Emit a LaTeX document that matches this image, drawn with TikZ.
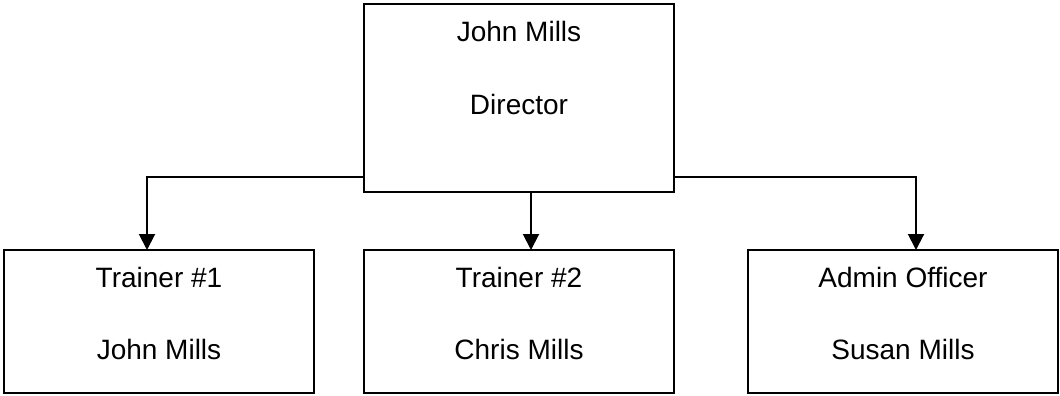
\documentclass[tikz,border=0pt]{standalone}
\usepackage{fontspec}
\setmainfont{Liberation Sans}
\usetikzlibrary{arrows.meta}
\begin{document}
\begin{tikzpicture}[x=1pt,y=-1pt,
  box/.style={draw=black,line width=2pt,inner sep=0pt,outer sep=0pt,fill=white},
  lbl/.style={anchor=base,inner sep=0pt,font=\fontsize{28}{34}\selectfont},
  arr/.style={draw=black,line width=2pt,-{Triangle[length=16pt,width=16pt]}}]
\useasboundingbox (0,0) rectangle (1060,396);
\node[box,minimum width=310pt,minimum height=188pt] (top) at (519,98) {};
\node[box,minimum width=310pt,minimum height=143pt] (t1) at (159,321.5) {};
\node[box,minimum width=310pt,minimum height=143pt] (t2) at (519,321.5) {};
\node[box,minimum width=310pt,minimum height=143pt] (ad) at (903,321.5) {};
\node[lbl] (topa) at (519,41.5) {John Mills};
\node[lbl] (topb) at (519,114) {Director};
\node[lbl] (t1a) at (159,287.5) {Trainer \#1};
\node[lbl] (t1b) at (159,359) {John Mills};
\node[lbl] (t2a) at (519,287.5) {Trainer \#2};
\node[lbl] (t2b) at (519,359) {Chris Mills};
\node[lbl] (ada) at (903,287.5) {Admin Officer};
\node[lbl] (adb) at (903,359) {Susan Mills};
\coordinate (la) at (147,177);
\coordinate (ma) at (531,177);
\coordinate (ra) at (916,177);
\draw[arr] (top.west |- la) -| (t1.north -| la);
\draw[arr] (top.south -| ma) -- (t2.north -| ma);
\draw[arr] (top.east |- ra) -| (ad.north -| ra);
\end{tikzpicture}
\end{document}
